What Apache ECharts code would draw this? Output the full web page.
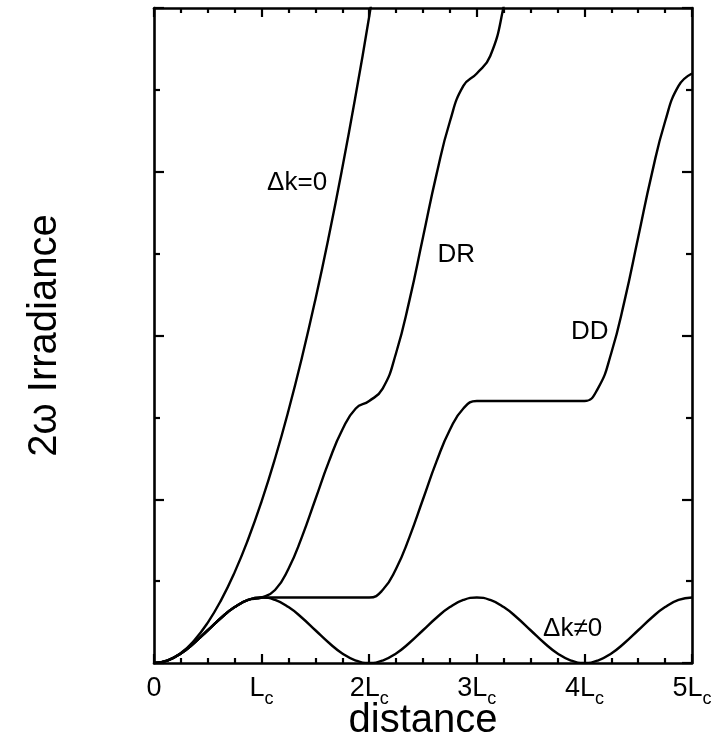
<!DOCTYPE html>
<html>
<head>
<meta charset="utf-8">
<script src="https://cdn.jsdelivr.net/npm/echarts@6/dist/echarts.min.js"></script>
<style>
  html, body { margin: 0; padding: 0; background: #ffffff; }
  #chart { width: 721px; height: 739px; }
</style>
</head>
<body>
<div id="chart"></div>
<script>
// Distance along the crystal, in units of the coherence length Lc
const distance = [
  0, 0.125, 0.25, 0.375, 0.5, 0.625, 0.75, 0.875,
  1, 1.125, 1.25, 1.375, 1.5, 1.625, 1.75, 1.875,
  2, 2.125, 2.25, 2.375, 2.5, 2.625, 2.75, 2.875,
  3, 3.125, 3.25, 3.375, 3.5, 3.625, 3.75, 3.875,
  4, 4.125, 4.25, 4.375, 4.5, 4.625, 4.75, 4.875, 5
];

// Second-harmonic irradiance (arbitrary units) for each case
const phaseMatched = [
  0, 0.031, 0.123, 0.278, 0.494, 0.771, 1.110, 1.511,
  1.974, 2.498, 3.084, 3.732, 4.441, 5.212, 6.045, 6.940,
  7.896, 8.914
];
const mismatched = [
  0, 0.030, 0.117, 0.247, 0.400, 0.553, 0.683, 0.770,
  0.800, 0.770, 0.683, 0.553, 0.400, 0.247, 0.117, 0.030,
  0, 0.030, 0.117, 0.247, 0.400, 0.553, 0.683, 0.770,
  0.800, 0.770, 0.683, 0.553, 0.400, 0.247, 0.117, 0.030,
  0, 0.030, 0.117, 0.247, 0.400, 0.553, 0.683, 0.770, 0.800
];
const domainReversal = [
  0, 0.030, 0.117, 0.247, 0.400, 0.553, 0.683, 0.770,
  0.800, 0.891, 1.152, 1.541, 2.000, 2.459, 2.849, 3.109,
  3.200, 3.352, 3.786, 4.435, 5.200, 5.965, 6.614, 7.048,
  7.200, 7.413, 8.020, 8.929
];
const domainDisabled = [
  0, 0.030, 0.117, 0.247, 0.400, 0.553, 0.683, 0.770,
  0.800, 0.800, 0.800, 0.800, 0.800, 0.800, 0.800, 0.800,
  0.800, 0.891, 1.152, 1.541, 2.000, 2.459, 2.849, 3.109,
  3.200, 3.200, 3.200, 3.200, 3.200, 3.200, 3.200, 3.200,
  3.200, 3.352, 3.786, 4.435, 5.200, 5.965, 6.614, 7.048, 7.200
];

// Tick labels on the distance axis: main part + subscript
const xTickMain = ['0', 'L', '2L', '3L', '4L', '5L'];
const xTickSub  = ['',  'c', 'c',  'c',  'c',  'c'];

// Curve captions, placed in data coordinates
const captions = [
  { text: 'Δk=0', x: 1.33, y: 5.87 },
  { text: 'DR',   x: 2.81, y: 4.99 },
  { text: 'DD',   x: 4.05, y: 4.05 },
  { text: 'Δk≠0', x: 3.89, y: 0.42 }
];

const FONT = '"Liberation Sans", Arial, Helvetica, sans-serif';
const INK = '#000000';

function pairs(values) {
  return values.map((v, i) => [distance[i], v]);
}

function caption(c) {
  return {
    symbol: 'circle',
    symbolSize: 0,
    silent: true,
    data: [{
      coord: [c.x, c.y],
      label: {
        show: true,
        position: 'inside',
        formatter: c.text,
        color: INK,
        fontFamily: FONT,
        fontSize: 26
      }
    }]
  };
}

function curve(name, values, cap) {
  return {
    name: name,
    type: 'line',
    data: pairs(values),
    showSymbol: false,
    smooth: 0.5,
    clip: true,
    lineStyle: { color: INK, width: 2.4 },
    animation: false,
    markPoint: caption(cap),
    z: 3
  };
}

const axisLine = { show: true, onZero: false, lineStyle: { color: INK, width: 2.6 } };

const xCommon = {
  type: 'value',
  min: 0,
  max: 5,
  interval: 1,
  axisLine: axisLine,
  axisTick: { show: true, inside: true, length: 9, lineStyle: { color: INK, width: 2.2 } },
  minorTick: { show: true, splitNumber: 4, length: 5, lineStyle: { color: INK, width: 2.2 } },
  splitLine: { show: false },
  minorSplitLine: { show: false }
};

const yCommon = {
  type: 'value',
  min: 0,
  max: 8,
  interval: 2,
  axisLine: axisLine,
  axisTick: { show: true, inside: true, length: 10, lineStyle: { color: INK, width: 2.2 } },
  minorTick: { show: true, splitNumber: 2, length: 6, lineStyle: { color: INK, width: 2.2 } },
  splitLine: { show: false },
  minorSplitLine: { show: false },
  axisLabel: { show: false }
};

const chart = echarts.init(document.getElementById('chart'), null, { renderer: 'canvas' });

chart.setOption({
  animation: false,
  backgroundColor: '#ffffff',
  grid: { left: 154, right: 29, top: 8, bottom: 76, containLabel: false, outerBoundsMode: 'none' },
  xAxis: [
    Object.assign({}, xCommon, {
      position: 'bottom',
      name: 'distance',
      nameLocation: 'middle',
      nameGap: 38,
      nameMoveOverlap: false,
      nameTextStyle: { color: INK, fontFamily: FONT, fontSize: 40 },
      axisLabel: {
        show: true,
        margin: 12,
        formatter: function (v) {
          const i = Math.round(v);
          if (!xTickSub[i]) return '{n|' + xTickMain[i] + '}';
          return '{n|' + xTickMain[i] + '}{s|' + xTickSub[i] + '}';
        },
        rich: {
          n: { fontFamily: FONT, fontSize: 27, color: INK, lineHeight: 28, verticalAlign: 'top' },
          s: { fontFamily: FONT, fontSize: 18, color: INK, lineHeight: 20, verticalAlign: 'top', padding: [15, 0, 0, 0] }
        }
      }
    }),
    Object.assign({}, xCommon, {
      position: 'top',
      axisLabel: { show: false }
    })
  ],
  yAxis: [
    Object.assign({}, yCommon, {
      position: 'left',
      name: '2ω Irradiance',
      nameLocation: 'middle',
      nameGap: 89,
      nameRotate: 90,
      nameMoveOverlap: false,
      nameTextStyle: { color: INK, fontFamily: FONT, fontSize: 40 }
    }),
    Object.assign({}, yCommon, { position: 'right' })
  ],
  series: [
    curve('Δk=0', phaseMatched, captions[0]),
    curve('DR', domainReversal, captions[1]),
    curve('DD', domainDisabled, captions[2]),
    curve('Δk≠0', mismatched, captions[3])
  ]
});
</script>
</body>
</html>
